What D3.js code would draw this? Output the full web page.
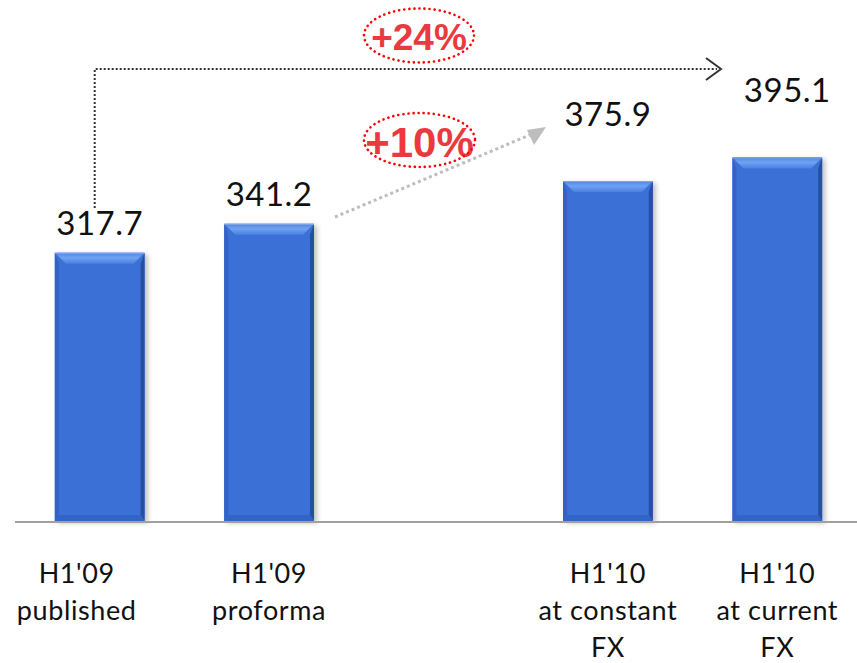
<!DOCTYPE html>
<html>
<head>
<meta charset="utf-8">
<script src="https://cdn.jsdelivr.net/npm/d3@7"></script>
<style>
  html, body { margin: 0; padding: 0; background: #fff; }
  svg { display: block; }
</style>
</head>
<body>
<svg id="chart" width="857" height="663"></svg>
<script>
// ---- data ----
const categories = ["H1'09|published", "H1'09|proforma", "", "H1'10|at constant|FX", "H1'10|at current|FX"];
const values = [317.7, 341.2, null, 375.9, 395.1];
const valueLabels = ["317.7", "341.2", "", "375.9", "395.1"];
const growthLabels = ["+24%", "+10%"];

// ---- layout ----
const W = 857, H = 663;
const baseY = 521;
const svg = d3.select("#chart");

const x = d3.scaleBand()
  .domain(d3.range(categories.length))
  .range([15, 862])
  .paddingInner(0.47)
  .paddingOuter(0.235);

const y = d3.scaleLinear().domain([100, 500]).range([baseY, baseY - 400 * 1.232]);

const defs = svg.append("defs");
const g1 = defs.append("linearGradient").attr("id", "topBevel").attr("x1", 0).attr("y1", 0).attr("x2", 0).attr("y2", 1);
g1.append("stop").attr("offset", "0%").attr("stop-color", "#4f86e4");
g1.append("stop").attr("offset", "45%").attr("stop-color", "#6ea2f2");
g1.append("stop").attr("offset", "100%").attr("stop-color", "#4a80e0");
const sh = defs.append("filter").attr("id", "shadow").attr("x", "-10%").attr("y", "-10%").attr("width", "130%").attr("height", "130%");
sh.append("feGaussianBlur").attr("in", "SourceAlpha").attr("stdDeviation", 2.5).attr("result", "b");
sh.append("feOffset").attr("in", "b").attr("dx", 3).attr("dy", 2).attr("result", "o");
sh.append("feComponentTransfer").attr("in", "o").attr("result", "s")
  .append("feFuncA").attr("type", "linear").attr("slope", 0.25);
const fm = sh.append("feMerge");
fm.append("feMergeNode").attr("in", "s");
fm.append("feMergeNode").attr("in", "SourceGraphic");

// ---- bars ----
const data = values.map((v, i) => ({ v, i })).filter(d => d.v != null);
const bars = svg.append("g").selectAll("g").data(data).join("g").attr("filter", "url(#shadow)");
const bw = x.bandwidth();
const bev = 11, side = 4;
bars.each(function (d) {
  const g = d3.select(this);
  const x0 = x(d.i), x1 = x0 + bw, y0 = y(d.v), y1 = y(100);
  g.append("rect").attr("x", x0).attr("y", y0).attr("width", bw).attr("height", y1 - y0).attr("fill", "#3a6fd6");
  g.append("path").attr("d", `M${x0},${y0}L${x0 + side},${y0 + bev}L${x0 + side},${y1 - 6}L${x0},${y1}Z`).attr("fill", "#3263c4");
  g.append("path").attr("d", `M${x1},${y0}L${x1 - side},${y0 + bev}L${x1 - side},${y1 - 6}L${x1},${y1}Z`).attr("fill", "#274f9f");
  g.append("path").attr("d", `M${x0},${y1}L${x0 + side},${y1 - 6}L${x1 - side},${y1 - 6}L${x1},${y1}Z`).attr("fill", "#3364c6");
  g.append("path").attr("d", `M${x0},${y0}L${x1},${y0}L${x1 - bev},${y0 + bev}L${x0 + bev},${y0 + bev}Z`).attr("fill", "url(#topBevel)");
  g.append("line").attr("x1", x0).attr("x2", x1).attr("y1", y0 + 0.5).attr("y2", y0 + 0.5).attr("stroke", "#8aa6d8").attr("stroke-width", 1);
});

// ---- axis baseline ----
svg.append("line").attr("x1", 15).attr("x2", W).attr("y1", baseY + 1).attr("y2", baseY + 1)
  .attr("stroke", "#a0a0a0").attr("stroke-width", 2);

// ---- value labels ----
svg.append("g").selectAll("text").data(data).join("text")
  .attr("x", d => x(d.i) + bw / 2 + (d.i === 4 ? 10 : 0))
  .attr("y", d => y(d.v) - (d.i >= 3 ? 55 : 18))
  .attr("text-anchor", "middle")
  .attr("font-family", "Lato, 'Open Sans', sans-serif")
  .attr("font-size", 33)
  .attr("letter-spacing", 0.5)
  .attr("fill", "#111")
  .text(d => valueLabels[d.i]);

// ---- category labels ----
const labelX = d => x(d.i) + bw / 2 - (d.i === 0 ? 23 : 0);
const cat = svg.append("g").selectAll("text").data(categories.map((c, i) => ({ c, i })).filter(d => d.c))
  .join("text")
  .attr("x", labelX)
  .attr("y", 583)
  .attr("text-anchor", "middle")
  .attr("font-family", "Lato, 'Open Sans', sans-serif")
  .attr("font-size", 27)
  .attr("letter-spacing", 0.6)
  .attr("fill", "#111");
cat.selectAll("tspan").data(d => d.c.split("|").map(s => ({ s, x: labelX(d) })))
  .join("tspan")
  .attr("x", t => t.x)
  .attr("dy", (t, j) => j === 0 ? 0 : 37)
  .text(t => t.s);

// ---- annotations ----
const cx0 = x(0) + bw / 2 - 5;
svg.append("path")
  .attr("d", `M${cx0},208L${cx0},69L717,69`)
  .attr("fill", "none").attr("stroke", "#333").attr("stroke-width", 2).attr("stroke-dasharray", "2 2");
svg.append("path")
  .attr("d", "M706,58L721,69L706,80")
  .attr("fill", "none").attr("stroke", "#333").attr("stroke-width", 2);

svg.append("line").attr("x1", 335).attr("y1", 217).attr("x2", 532).attr("y2", 134)
  .attr("stroke", "#bdbdbd").attr("stroke-width", 3).attr("stroke-dasharray", "3 3");
svg.append("path").attr("d", "M546,127L527,130L534,145Z").attr("fill", "#bdbdbd");

const ann = [
  { t: growthLabels[0], cx: 419, cy: 35.5, rx: 55, ry: 27, fs: 37, by: 50 },
  { t: growthLabels[1], cx: 419.5, cy: 140, rx: 55.5, ry: 27, fs: 42, by: 157 }
];
svg.append("g").selectAll("text").data(ann).join("text")
  .attr("x", d => d.cx).attr("y", d => d.by)
  .attr("text-anchor", "middle")
  .attr("font-family", "'Liberation Sans', Arial, sans-serif")
  .attr("font-weight", "bold")
  .attr("font-size", d => d.fs)
  .attr("fill", "#ea3a3f")
  .text(d => d.t);
svg.append("g").selectAll("ellipse").data(ann).join("ellipse")
  .attr("cx", d => d.cx).attr("cy", d => d.cy).attr("rx", d => d.rx).attr("ry", d => d.ry)
  .attr("fill", "none").attr("stroke", "#f00").attr("stroke-width", 2.6)
  .attr("stroke-linecap", "round").attr("stroke-dasharray", "0.1 5");
</script>
</body>
</html>
